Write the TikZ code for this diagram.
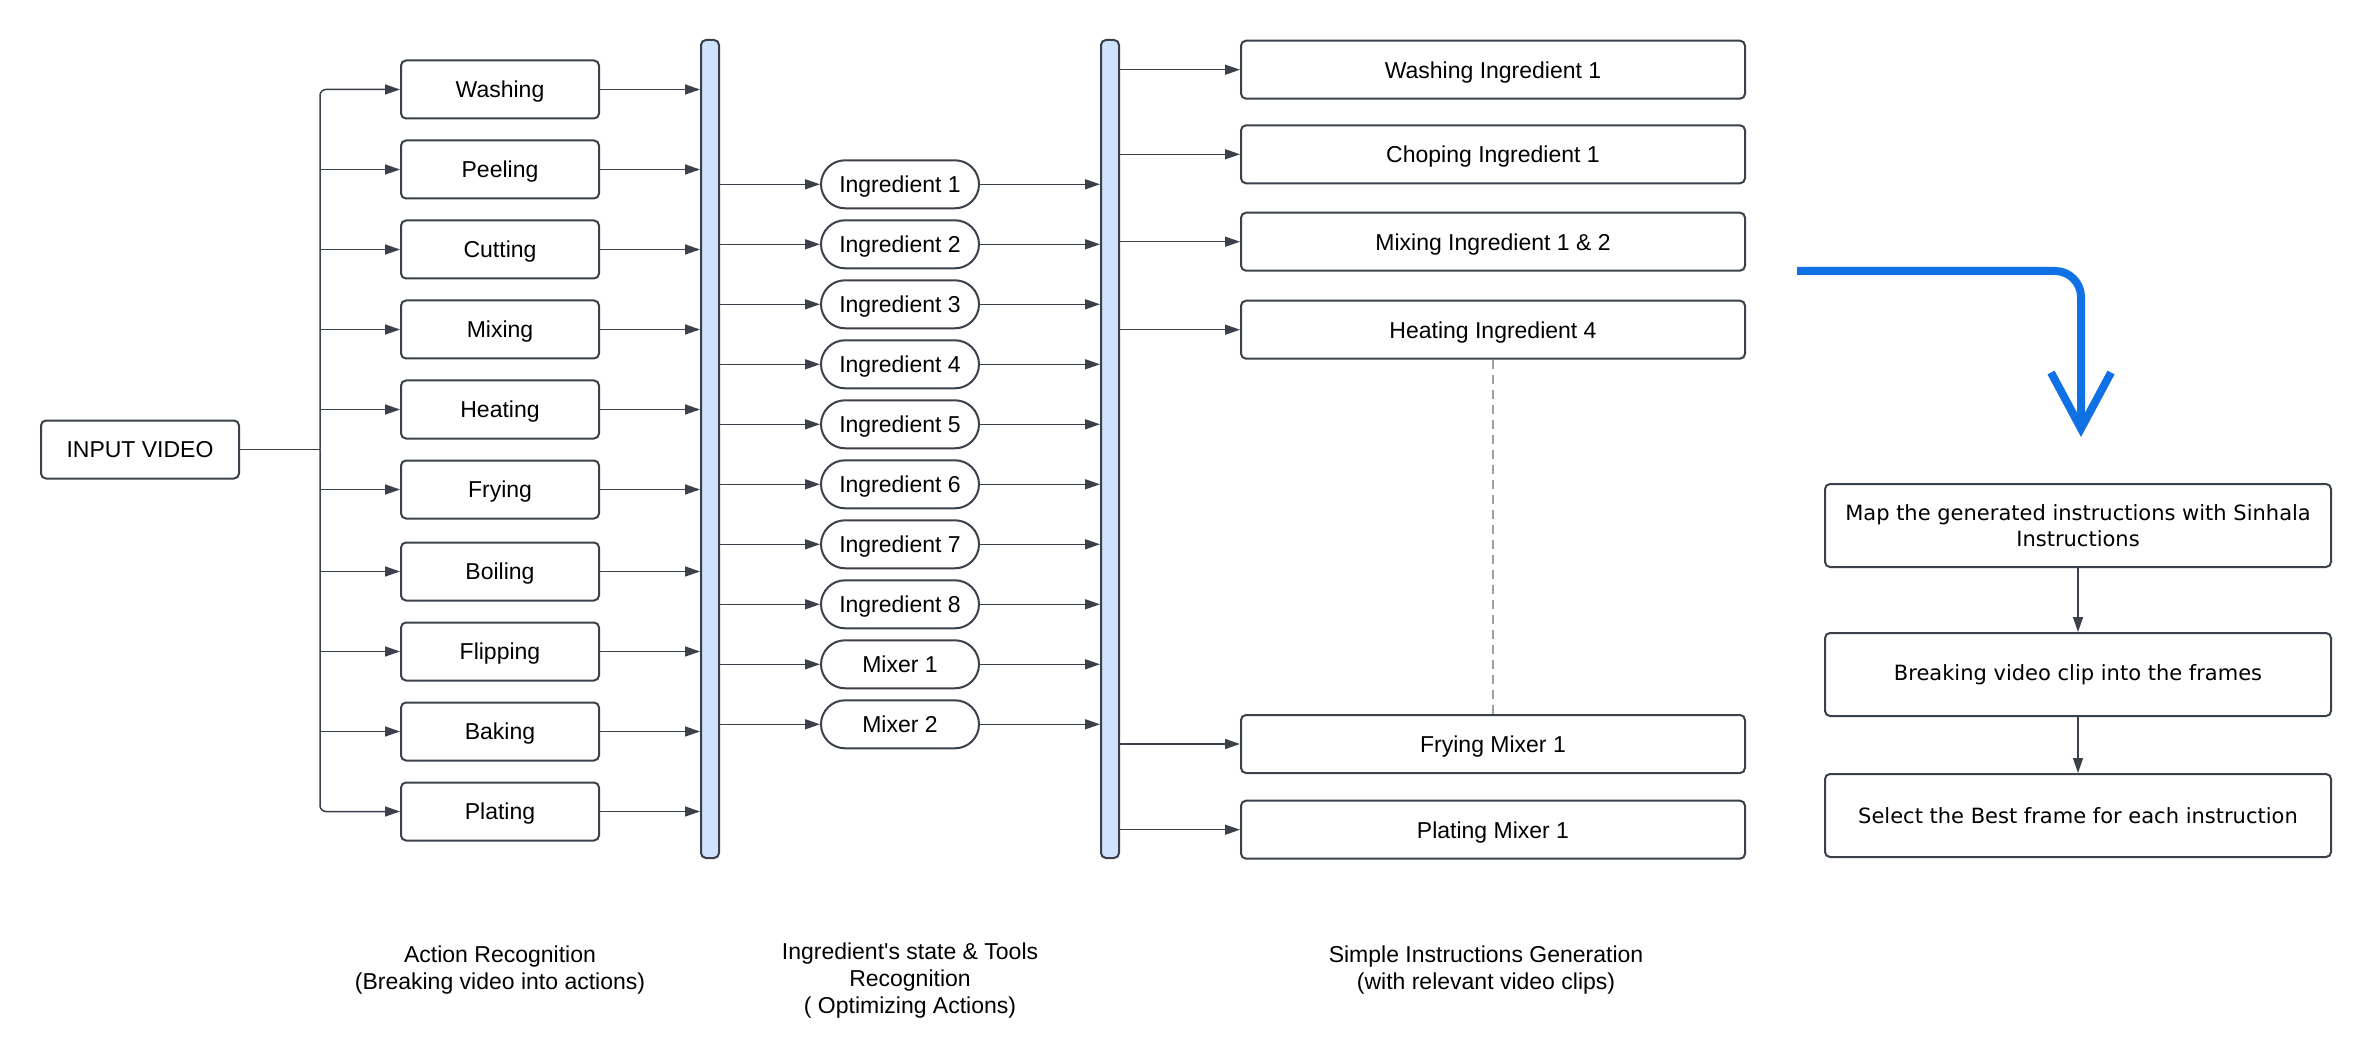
\documentclass[tikz,border=0pt]{standalone}
\usepackage{fontspec}
\setmainfont{Liberation Sans}
\newfontfamily\widefont{DejaVu Sans}
\usetikzlibrary{arrows.meta}
\definecolor{edge}{HTML}{3A414A}
\definecolor{busfill}{HTML}{CFE2FF}
\definecolor{flowblue}{HTML}{1071E5}
\definecolor{dashgray}{HTML}{A0A0A0}

\begin{document}
\begin{tikzpicture}[x=1pt,y=-1pt,
  font=\fontsize{23}{28}\selectfont,
  box/.style={draw=edge,line width=2pt,rounded corners=5pt,minimum width=198pt,minimum height=58pt,inner sep=0pt,text depth=0pt},
  pill/.style={draw=edge,line width=2pt,rounded corners=24pt,minimum width=158pt,minimum height=48pt,inner sep=0pt,text depth=0pt},
  bus/.style={draw=edge,fill=busfill,line width=2pt,rounded corners=5pt,minimum width=18pt,minimum height=818pt,inner sep=0pt},
  instr/.style={box,minimum width=504pt},
  stage/.style={draw=edge,line width=2pt,rounded corners=5pt,minimum width=506pt,minimum height=83pt,inner sep=0pt,align=center,font=\widefont\fontsize{21}{26}\selectfont},
  caption/.style={align=center,font=\fontsize{23}{27}\selectfont},
  arr/.style={draw=edge,line width=1.5pt,-{Triangle[length=15pt,width=10pt]}},
  link/.style={draw=edge,line width=1.5pt}]
\path[fill=white,use as bounding box] (0,0) rectangle (2372,1040);

% input and actions
\node[box] (input) at (140,449.5) {INPUT VIDEO};
\coordinate (split) at (320,449.5);
\node[box] (washing) at (500,89.5) {Washing};
\node[box] (peeling) at (500,169.5) {Peeling};
\node[box] (cutting) at (500,249.5) {Cutting};
\node[box] (mixing) at (500,329.5) {Mixing};
\node[box] (heating) at (500,409.5) {Heating};
\node[box] (frying) at (500,489.5) {Frying};
\node[box] (boiling) at (500,571.5) {Boiling};
\node[box] (flipping) at (500,651.5) {Flipping};
\node[box] (baking) at (500,731.5) {Baking};
\node[box] (plating) at (500,811.5) {Plating};

% buses
\node[bus] (bus1) at (710,449) {};
\node[bus] (bus2) at (1110,449) {};

% ingredients and tools
\node[pill] (ing1) at (900,184.3) {Ingredient 1};
\node[pill] (ing2) at (900,244.3) {Ingredient 2};
\node[pill] (ing3) at (900,304.3) {Ingredient 3};
\node[pill] (ing4) at (900,364.3) {Ingredient 4};
\node[pill] (ing5) at (900,424.3) {Ingredient 5};
\node[pill] (ing6) at (900,484.3) {Ingredient 6};
\node[pill] (ing7) at (900,544.3) {Ingredient 7};
\node[pill] (ing8) at (900,604.3) {Ingredient 8};
\node[pill] (mixer1) at (900,664.3) {Mixer 1};
\node[pill] (mixer2) at (900,724.3) {Mixer 2};

% simple instructions
\node[instr] (washIng) at (1493,69.7) {Washing Ingredient 1};
\node[instr] (chopIng) at (1493,154.3) {Choping Ingredient 1};
\node[instr] (mixIng) at (1493,241.7) {Mixing Ingredient 1 \& 2};
\node[instr] (heatIng) at (1493,329.7) {Heating Ingredient 4};
\node[instr] (fryMix) at (1493,744) {Frying Mixer 1};
\node[instr] (plateMix) at (1493,829.7) {Plating Mixer 1};

% right column
\node[stage] (mapping) at (2078,525.5) {Map the generated instructions with Sinhala\\Instructions};
\node[stage] (frames) at (2078,674.5) {Breaking video clip into the frames};
\node[stage] (select) at (2078,815.5) {Select the Best frame for each instruction};

% captions
\node[caption] (capA) at (500,970) {Action Recognition\\(Breaking video into actions)};
\node[caption] (capB) at (910,981) {Ingredient\textquotesingle s state \& Tools\\Recognition\\( Optimizing Actions)};
\node[caption] (capC) at (1486,970) {Simple Instructions Generation\\(with relevant video clips)};

% connectors
\draw[link] (input.east) -- (split);
\draw[arr,rounded corners=6pt] (split) |- (washing.west);
\draw[arr] (split |- peeling.west) -- (peeling.west);
\draw[arr] (split |- cutting.west) -- (cutting.west);
\draw[arr] (split |- mixing.west) -- (mixing.west);
\draw[arr] (split |- heating.west) -- (heating.west);
\draw[arr] (split |- frying.west) -- (frying.west);
\draw[arr] (split |- boiling.west) -- (boiling.west);
\draw[arr] (split |- flipping.west) -- (flipping.west);
\draw[arr] (split |- baking.west) -- (baking.west);
\draw[arr,rounded corners=6pt] (split) |- (plating.west);

\draw[arr] (washing.east) -- (washing.east -| bus1.west);
\draw[arr] (peeling.east) -- (peeling.east -| bus1.west);
\draw[arr] (cutting.east) -- (cutting.east -| bus1.west);
\draw[arr] (mixing.east) -- (mixing.east -| bus1.west);
\draw[arr] (heating.east) -- (heating.east -| bus1.west);
\draw[arr] (frying.east) -- (frying.east -| bus1.west);
\draw[arr] (boiling.east) -- (boiling.east -| bus1.west);
\draw[arr] (flipping.east) -- (flipping.east -| bus1.west);
\draw[arr] (baking.east) -- (baking.east -| bus1.west);
\draw[arr] (plating.east) -- (plating.east -| bus1.west);

\foreach \n in {ing1,ing2,ing3,ing4,ing5,ing6,ing7,ing8,mixer1,mixer2}{
  \draw[arr] (\n.west -| bus1.east) -- (\n.west);
  \draw[arr] (\n.east) -- (\n.east -| bus2.west);
}

\foreach \n in {washIng,chopIng,mixIng,heatIng,fryMix,plateMix}
  \draw[arr] (\n.west -| bus2.east) -- (\n.west);

\draw[dashgray,line width=1.5pt,dash pattern=on 9pt off 6pt] (heatIng.south) -- (fryMix.north);

% big blue arrow
\coordinate (flowstart) at (1797,271);
\coordinate (flowtip) at (2081,437);
\draw[flowblue,line width=8pt,rounded corners=26pt,-{Straight Barb[length=56pt,width=60pt]}] (flowstart) -| (flowtip);

\draw[arr] (mapping.south) -- (frames.north);
\draw[arr] (frames.south) -- (select.north);
\end{tikzpicture}
\end{document}
